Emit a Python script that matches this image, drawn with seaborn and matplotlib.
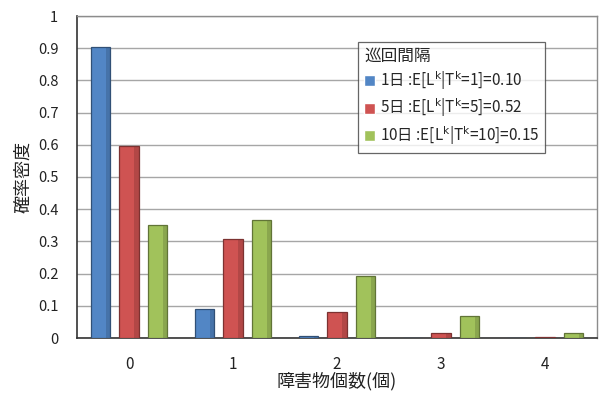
import matplotlib
matplotlib.use("Agg")
import matplotlib.pyplot as plt
import matplotlib.colors as mcolors
from matplotlib.ticker import FixedLocator, FuncFormatter
import pandas as pd
import seaborn as sns

# Obstacle counts on the x axis
counts = ["0", "1", "2", "3", "4"]

# Patrol-interval series (legend labels)
interval_labels = [
    r"1日 :E[L$^\mathrm{k}$|T$^\mathrm{k}$=1]=0.10",
    r"5日 :E[L$^\mathrm{k}$|T$^\mathrm{k}$=5]=0.52",
    r"10日 :E[L$^\mathrm{k}$|T$^\mathrm{k}$=10]=0.15",
]

# Probability of each obstacle count per interval
p_1day = [0.905, 0.090, 0.005, 0.0002, 0.0]
p_5day = [0.595, 0.309, 0.080, 0.014, 0.002]
p_10day = [0.350, 0.367, 0.193, 0.067, 0.017]

y_ticks = [0.0, 0.1, 0.2, 0.3, 0.4, 0.5, 0.6, 0.7, 0.8, 0.9, 1.0]

colors = ["#5286C5", "#CF5352", "#A1C25B"]

rows = []
for label, series in zip(interval_labels, [p_1day, p_5day, p_10day]):
    for c, p in zip(counts, series):
        rows.append({"障害物個数": c, "確率": p, "巡回間隔": label})
df = pd.DataFrame(rows)

sns.set_style("white")
plt.rcParams["font.family"] = ["Noto Sans CJK JP", "DejaVu Sans"]
plt.rcParams["mathtext.fontset"] = "dejavusans"
plt.rcParams["axes.unicode_minus"] = False

fig = plt.figure(figsize=(5.99, 3.94), dpi=100)
W, H = 599, 394
ax = fig.add_axes([77 / W, (H - 338) / H, 520 / W, 322 / H])

sns.barplot(
    data=df, x="障害物個数", y="確率", hue="巡回間隔",
    order=counts, hue_order=interval_labels, palette=colors,
    width=0.82, gap=0.33, saturation=1.0, ax=ax, zorder=3,
)

# darker outline and right-side shading for a bevelled look
for cont, col in zip(ax.containers, colors):
    dark = tuple(v * 0.6 for v in mcolors.to_rgb(col))
    for bar in cont:
        bar.set_edgecolor(dark)
        bar.set_linewidth(0.9)
        x, y = bar.get_x(), bar.get_y()
        w, h = bar.get_width(), bar.get_height()
        if h > 0:
            ax.add_patch(plt.Rectangle((x + w * 0.78, y), w * 0.22, h,
                                       facecolor=dark, alpha=0.35,
                                       linewidth=0, zorder=3.5))

ax.set_xlim(-0.5, 4.5)
ax.set_ylim(0, 1.0)
ax.yaxis.set_major_locator(FixedLocator(y_ticks))
ax.yaxis.set_major_formatter(FuncFormatter(lambda v, _: f"{v:g}"))
ax.grid(axis="y", color="#A6A6A6", linewidth=1.0, zorder=0)
ax.set_axisbelow(True)

ax.xaxis.set_minor_locator(FixedLocator([0.5, 1.5, 2.5, 3.5]))
ax.tick_params(axis="x", which="major", length=0, pad=13, labelsize=11,
               colors="#222222")
ax.tick_params(axis="x", which="minor", direction="in", length=6,
               width=1, color="#333333")
ax.tick_params(axis="y", direction="in", length=6, width=1, pad=13.5,
               labelsize=10.5, colors="#222222")
ax.tick_params(axis="y", color="#333333")

for side in ["left", "bottom"]:
    ax.spines[side].set_visible(True)
    ax.spines[side].set_color("#333333")
    ax.spines[side].set_linewidth(1.2)
for side in ["top", "right"]:
    ax.spines[side].set_visible(True)
    ax.spines[side].set_color("#8C8C8C")
    ax.spines[side].set_linewidth(1.0)

ax.set_xlabel("障害物個数(個)", fontsize=13, color="#222222")
ax.set_ylabel("確率密度", fontsize=13, color="#222222")
ax.xaxis.set_label_coords(0.5, -0.106)
ax.yaxis.set_label_coords(-0.087, 0.5)

leg = ax.legend(
    title="巡回間隔", loc="upper left", bbox_to_anchor=(0.54, 0.92),
    borderaxespad=0, fontsize=11, title_fontsize=12,
    frameon=True, fancybox=False, edgecolor="#404040",
    handlelength=0.75, handleheight=0.75, handletextpad=0.3,
    labelspacing=0.3, borderpad=0.4,
)
leg.get_frame().set_linewidth(0.9)
leg._legend_box.align = "left"

fig.savefig("out.png", dpi=100)
